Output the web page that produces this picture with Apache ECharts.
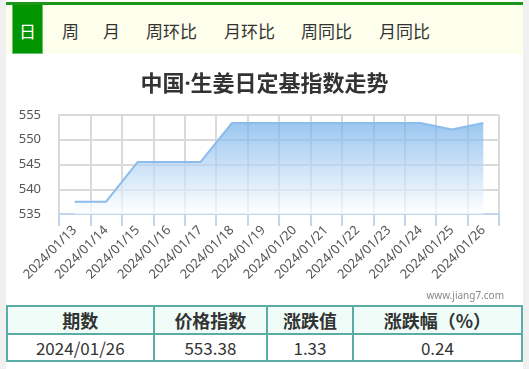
<!DOCTYPE html>
<html><head><meta charset="utf-8">
<script src="https://cdn.jsdelivr.net/npm/echarts@6/dist/echarts.min.js"></script>
<style>
html,body{margin:0;padding:0;width:529px;height:369px;overflow:hidden;background:#f0f0f0;font-family:"Noto Sans CJK SC","Noto Sans",sans-serif;}
#page{position:absolute;left:6px;top:0;width:517px;height:369px;background:#fff;}
#topline{position:absolute;left:6px;top:2px;width:517px;height:3px;background:#1b961b;}
#tabs{position:absolute;left:6px;top:5px;width:517px;height:49px;background:#fefeec;}
#active{position:absolute;left:12px;top:5px;width:29px;height:48px;background:#009400;border:1px solid #6cc46c;border-top:none;}
.tab{position:absolute;top:18px;font-size:17px;line-height:26px;color:#333;white-space:nowrap;}
#chart{position:absolute;left:6px;top:56px;width:517px;height:246px;}
table{position:absolute;left:6px;top:305px;width:517px;border-collapse:collapse;font-size:17px;color:#333;}
td{border:2px solid #5aaca4;text-align:center;padding:0;}
tr.h td{background:#effcf7;font-weight:bold;height:25px;font-size:18px;}
tr.d td{height:22px;font-size:17px;}
</style></head>
<body>
<div id="page"></div>
<div id="topline"></div>
<div id="tabs"></div>
<div id="active"></div>
<div id="tabtexts"></div>
<div id="chart"></div>
<div id="tbl"></div>
<script>
const tabNames = ['日','周','月','周环比','月环比','周同比','月同比'];
const tabLeft = [19,62,103,146,224,301,379];
const categories = ['2024/01/13','2024/01/14','2024/01/15','2024/01/16','2024/01/17','2024/01/18','2024/01/19','2024/01/20','2024/01/21','2024/01/22','2024/01/23','2024/01/24','2024/01/25','2024/01/26'];
const values = [537.5,537.5,545.5,545.5,545.5,553.38,553.38,553.38,553.38,553.38,553.38,553.38,552.05,553.38];
const yTicks = {min:535,max:555,interval:5};
const tableHeader = ['期数','价格指数','涨跌值','涨跌幅（%）'];
const tableRow = ['2024/01/26','553.38','1.33','0.24'];
const colWidths = [147,114,86,170];

let th = '';
tabNames.forEach((t,i)=>{
  th += '<div class="tab" style="left:'+tabLeft[i]+'px;'+(i===0?'color:#fff;':'')+'">'+t+'</div>';
});
document.getElementById('tabtexts').innerHTML = th;

let tb = '<table><colgroup>'+colWidths.map(w=>'<col style="width:'+w+'px">').join('')+'</colgroup>';
tb += '<tr class="h">'+tableHeader.map(t=>'<td>'+t+'</td>').join('')+'</tr>';
tb += '<tr class="d">'+tableRow.map(t=>'<td>'+t+'</td>').join('')+'</tr></table>';
document.getElementById('tbl').innerHTML = tb;

const chart = echarts.init(document.getElementById('chart'));
chart.setOption({
  animation:false,
  title:{text:'中国·生姜日定基指数走势',left:'center',top:13,textStyle:{fontSize:22,fontWeight:'bold',color:'#333',fontFamily:'"Noto Sans","Noto Sans CJK SC"'}},
  graphic:[{type:'text',right:19,top:235,style:{text:'www.jiang7.com',fontSize:10,fill:'#888',fontFamily:'Noto Sans'}}],
  grid:{left:53,top:59,width:440,height:99},
  xAxis:{type:'category',data:categories,boundaryGap:true,
    axisLine:{lineStyle:{color:'#c3d6ee',width:2}},
    axisTick:{show:true,length:12,lineStyle:{color:'#c3d6ee',width:2}},
    splitLine:{show:true,lineStyle:{color:'#dadada',width:2}},
    axisLabel:{rotate:45,fontSize:13,color:'#555',margin:14,interval:0,fontFamily:'Noto Sans'}},
  yAxis:{type:'value',min:yTicks.min,max:yTicks.max,interval:yTicks.interval,
    axisLine:{show:true,lineStyle:{color:'#dadada',width:2}},
    axisTick:{show:false},
    splitLine:{lineStyle:{color:'#dadada',width:2}},
    axisLabel:{fontSize:13,color:'#555',margin:18,fontFamily:'Noto Sans'}},
  series:[{type:'line',data:values,symbol:'none',
    lineStyle:{color:'#8cbcec',width:2},
    areaStyle:{color:new echarts.graphic.LinearGradient(0,0,0,1,[{offset:0,color:'#70aee9'},{offset:1,color:'#ffffff'}])}}]
});
</script>
</body></html>
